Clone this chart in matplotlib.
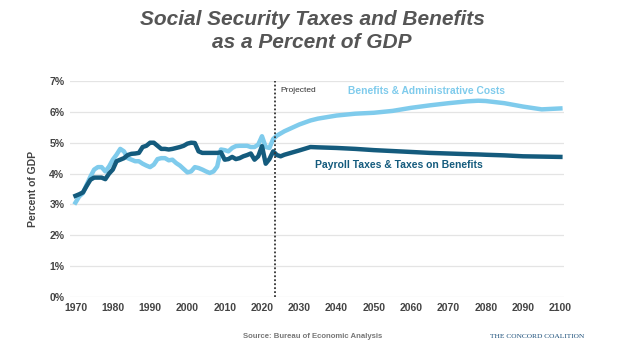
import numpy as np
import matplotlib.pyplot as plt

# Historical + projected years
years = [1970, 1971, 1972, 1973, 1974, 1975, 1976, 1977, 1978, 1979,
         1980, 1981, 1982, 1983, 1984, 1985, 1986, 1987, 1988, 1989,
         1990, 1991, 1992, 1993, 1994, 1995, 1996, 1997, 1998, 1999,
         2000, 2001, 2002, 2003, 2004, 2005, 2006, 2007, 2008, 2009,
         2010, 2011, 2012, 2013, 2014, 2015, 2016, 2017, 2018, 2019,
         2020, 2021, 2022, 2023, 2024, 2025, 2026, 2028, 2030, 2033,
         2035, 2040, 2045, 2050, 2055, 2060, 2065, 2070, 2075, 2078,
         2080, 2085, 2090, 2095, 2100]

# Payroll taxes & taxes on benefits (% of GDP)
taxes = [3.28, 3.33, 3.39, 3.6, 3.8, 3.87, 3.87, 3.87, 3.82, 4.0,
         4.13, 4.4, 4.45, 4.5, 4.6, 4.64, 4.65, 4.67, 4.86, 4.9,
         5.0, 5.0, 4.9, 4.8, 4.8, 4.78, 4.8, 4.83, 4.86, 4.9,
         4.97, 5.0, 4.99, 4.72, 4.67, 4.67, 4.67, 4.67, 4.67, 4.69,
         4.45, 4.47, 4.54, 4.47, 4.5, 4.56, 4.6, 4.65, 4.45, 4.56,
         4.89, 4.32, 4.47, 4.72, 4.6, 4.56, 4.61, 4.68, 4.75, 4.86,
         4.85, 4.83, 4.8, 4.76, 4.73, 4.7, 4.67, 4.65, 4.63, 4.62,
         4.61, 4.59, 4.56, 4.55, 4.54]

# Benefits & administrative costs (% of GDP)
benefits = [3.06, 3.26, 3.37, 3.64, 3.9, 4.13, 4.21, 4.21, 4.07, 4.23,
            4.45, 4.61, 4.8, 4.72, 4.5, 4.45, 4.4, 4.4, 4.32, 4.26,
            4.21, 4.29, 4.47, 4.5, 4.5, 4.43, 4.45, 4.34, 4.26, 4.15,
            4.04, 4.07, 4.21, 4.18, 4.13, 4.07, 4.02, 4.07, 4.23, 4.78,
            4.76, 4.72, 4.83, 4.89, 4.9, 4.9, 4.9, 4.86, 4.86, 4.94,
            5.21, 4.86, 4.83, 5.12, 5.23, 5.3, 5.37, 5.48, 5.59, 5.72,
            5.78, 5.88, 5.94, 5.97, 6.03, 6.13, 6.21, 6.28, 6.34, 6.36,
            6.35, 6.28, 6.17, 6.08, 6.11]

xticks = list(range(1970, 2101, 10))
yticks = list(range(0, 8))

light = '#7fcbec'
dark = '#145b7d'
gray = '#555555'

plt.rcParams['font.family'] = ['Liberation Sans', 'DejaVu Sans']

fig = plt.figure(figsize=(6.24, 3.52), dpi=100)
ax = fig.add_axes([0.112, 0.156, 0.792, 0.614])

ax.plot(years, benefits, color=light, lw=3.2, solid_joinstyle='round')
ax.plot(years, taxes, color=dark, lw=3.2, solid_joinstyle='round')

ax.axvline(2023.5, color='#333333', ls=(0, (1, 1.2)), lw=1.3)
ax.text(2025, 6.68, 'Projected', fontsize=6, color='#333333', va='center')

ax.text(2064, 6.66, 'Benefits & Administrative Costs', color=light,
        fontsize=7.4, fontweight='bold', ha='center', va='center')
ax.text(2056.7, 4.29, 'Payroll Taxes & Taxes on Benefits', color=dark,
        fontsize=7.5, fontweight='bold', ha='center', va='center')

ax.set_xlim(1968.5, 2101)
ax.set_ylim(0, 7)
ax.set_xticks(xticks)
ax.set_yticks(yticks)
ax.set_yticklabels([f'{v}%' for v in yticks])
ax.tick_params(length=0, labelsize=7.5, labelcolor='#444444', pad=4)
for lab in ax.get_xticklabels() + ax.get_yticklabels():
    lab.set_fontweight('bold')
ax.grid(axis='y', color='#e4e4e4', lw=0.9)
ax.set_axisbelow(True)
for s in ax.spines.values():
    s.set_visible(False)
ax.set_ylabel('Percent of GDP', fontsize=7.5, fontweight='bold', color='#444444', labelpad=8)

fig.text(0.5, 0.912, 'Social Security Taxes and Benefits\nas a Percent of GDP',
         ha='center', va='center', fontsize=15, fontweight='bold', fontstyle='italic',
         color=gray, linespacing=1.25)

fig.text(0.501, 0.045, 'Source: Bureau of Economic Analysis', ha='center', va='center',
         fontsize=5.6, fontweight='bold', color='#777777')
fig.text(0.86, 0.045, 'THE CONCORD COALITION', ha='center', va='center',
         fontsize=5.4, family='Liberation Serif', color='#1b4f7a')

fig.savefig('out.png', dpi=100, facecolor='white')
